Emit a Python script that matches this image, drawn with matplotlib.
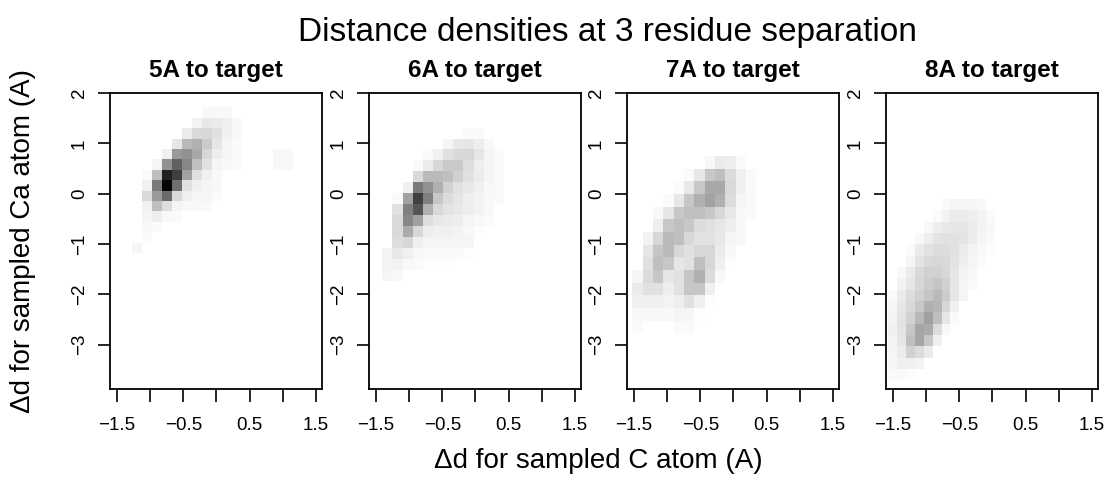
import numpy as np
import matplotlib
matplotlib.use("Agg")
import matplotlib.pyplot as plt
from matplotlib.colors import LinearSegmentedColormap

plt.rcParams['font.family'] = ['Liberation Sans', 'DejaVu Sans']

# ---- data -----------------------------------------------------------------
main_title = "Distance densities at 3 residue separation"
panel_titles = ["5A to target", "6A to target", "7A to target", "8A to target"]
x_label = "\u0394d for sampled C atom (A)"
y_label = "\u0394d for sampled Ca atom (A)"

x_ticks = [-1.5, -1.0, -0.5, 0.0, 0.5, 1.0, 1.5]
x_tick_labels = ["\u22121.5", "", "\u22120.5", "", "0.5", "", "1.5"]
y_ticks = [-3, -2, -1, 0, 1, 2]
y_tick_labels = ["\u22123", "\u22122", "\u22121", "0", "1", "2"]

# histogram bins of each panel: left edge / width in x, top edge / height in y
bin_x0 = [-1.27, -1.405, -1.526, -1.571]
bin_dx = [0.151, 0.153, 0.156, 0.134]
bin_y0 = [1.717, 1.313, 0.752, -0.106]
bin_dy = [0.207, 0.217, 0.252, 0.225]

# relative density (0 = none, 100 = maximum), rows from top to bottom
density_5A = [
    [0, 0, 0, 0, 0, 0, 0, 3, 3, 3, 0, 0, 0, 0, 0, 0],
    [0, 0, 0, 0, 0, 0, 5, 9, 8, 6, 3, 0, 0, 0, 0, 0],
    [0, 0, 0, 0, 0, 8, 15, 16, 12, 6, 3, 0, 0, 0, 0, 0],
    [0, 0, 0, 0, 10, 28, 31, 21, 10, 4, 2, 0, 0, 0, 0, 0],
    [0, 0, 0, 6, 40, 43, 34, 16, 7, 4, 2, 0, 0, 0, 3, 3],
    [0, 0, 4, 43, 62, 47, 25, 12, 4, 3, 2, 0, 0, 0, 3, 3],
    [0, 2, 25, 87, 75, 37, 12, 6, 3, 0, 0, 0, 0, 0, 0, 0],
    [0, 6, 52, 97, 56, 12, 6, 4, 3, 0, 0, 0, 0, 0, 0, 0],
    [0, 15, 40, 58, 15, 6, 4, 4, 2, 0, 0, 0, 0, 0, 0, 0],
    [0, 6, 25, 13, 4, 3, 3, 2, 0, 0, 0, 0, 0, 0, 0, 0],
    [0, 4, 7, 3, 2, 0, 0, 0, 0, 0, 0, 0, 0, 0, 0, 0],
    [0, 3, 2, 0, 0, 0, 0, 0, 0, 0, 0, 0, 0, 0, 0, 0],
    [0, 2, 0, 0, 0, 0, 0, 0, 0, 0, 0, 0, 0, 0, 0, 0],
    [4, 0, 0, 0, 0, 0, 0, 0, 0, 0, 0, 0, 0, 0, 0, 0],
]

density_6A = [
    [0, 0, 0, 0, 0, 0, 0, 0, 2, 2, 0, 0],
    [0, 0, 0, 0, 0, 0, 4, 9, 10, 7, 3, 0],
    [0, 0, 0, 0, 2, 6, 12, 15, 16, 10, 4, 2],
    [0, 0, 0, 2, 8, 16, 21, 21, 13, 7, 4, 2],
    [0, 0, 0, 15, 27, 27, 25, 18, 12, 8, 4, 2],
    [0, 0, 6, 52, 43, 31, 18, 12, 9, 6, 3, 2],
    [0, 2, 37, 75, 50, 22, 14, 10, 7, 5, 3, 2],
    [0, 12, 50, 67, 31, 15, 11, 9, 7, 5, 3, 0],
    [0, 15, 47, 37, 13, 9, 8, 7, 4, 3, 2, 0],
    [0, 15, 33, 16, 7, 6, 6, 5, 3, 1, 0, 0],
    [0, 13, 16, 6, 4, 4, 4, 4, 4, 0, 0, 0],
    [5, 9, 6, 3, 2, 2, 2, 2, 1, 0, 0, 0],
    [5, 5, 3, 2, 1, 1, 1, 0, 0, 0, 0, 0],
    [4, 3, 0, 0, 0, 0, 0, 0, 0, 0, 0, 0],
]

density_7A = [
    [0, 0, 0, 0, 0, 0, 0, 3, 8, 7, 2, 0],
    [0, 0, 0, 0, 0, 2, 9, 22, 25, 14, 6, 2],
    [0, 0, 0, 0, 2, 9, 22, 34, 34, 15, 6, 2],
    [0, 0, 0, 2, 9, 22, 31, 37, 31, 14, 4, 2],
    [0, 0, 3, 10, 22, 25, 25, 22, 16, 9, 3, 2],
    [0, 0, 7, 22, 25, 22, 14, 12, 10, 7, 3, 0],
    [0, 5, 16, 27, 25, 16, 12, 12, 9, 4, 3, 0],
    [0, 10, 23, 27, 16, 12, 16, 16, 8, 3, 0, 0],
    [0, 12, 25, 22, 10, 12, 25, 16, 6, 1, 0, 0],
    [4, 14, 22, 10, 12, 23, 31, 14, 3, 0, 0, 0],
    [8, 12, 12, 7, 12, 22, 22, 6, 0, 0, 0, 0],
    [6, 6, 6, 5, 7, 12, 6, 1, 0, 0, 0, 0],
    [3, 3, 3, 3, 4, 4, 1, 0, 0, 0, 0, 0],
    [2, 0, 0, 0, 2, 2, 0, 0, 0, 0, 0, 0],
]

density_8A = [
    [0, 0, 0, 0, 0, 0, 2, 4, 4, 4, 3, 0],
    [0, 0, 0, 0, 0, 2, 5, 8, 8, 7, 5, 2],
    [0, 0, 0, 0, 3, 7, 9, 10, 10, 8, 5, 3],
    [0, 0, 0, 3, 7, 11, 12, 12, 11, 8, 4, 2],
    [0, 0, 2, 8, 12, 14, 14, 12, 8, 5, 3, 1],
    [0, 0, 4, 11, 15, 16, 15, 11, 7, 4, 2, 0],
    [0, 3, 8, 15, 18, 18, 16, 10, 5, 3, 0, 0],
    [0, 5, 10, 16, 20, 23, 18, 10, 4, 2, 0, 0],
    [2, 8, 14, 18, 23, 27, 20, 10, 4, 0, 0, 0],
    [4, 10, 15, 22, 31, 29, 16, 6, 0, 0, 0, 0],
    [5, 11, 18, 28, 37, 25, 10, 2, 0, 0, 0, 0],
    [6, 11, 22, 35, 33, 14, 3, 0, 0, 0, 0, 0],
    [5, 10, 25, 35, 22, 6, 0, 0, 0, 0, 0, 0],
    [4, 8, 18, 14, 8, 0, 0, 0, 0, 0, 0, 0],
    [4, 6, 6, 5, 0, 0, 0, 0, 0, 0, 0, 0],
    [2, 2, 1, 0, 0, 0, 0, 0, 0, 0, 0, 0],
]

densities = [density_5A, density_6A, density_7A, density_8A]

# ---- figure ----------------------------------------------------------------
W, H = 1109, 484
fig = plt.figure(figsize=(W / 100, H / 100), dpi=100)
cmap = LinearSegmentedColormap.from_list("white_black", ["#ffffff", "#000000"])

panel_left = [110, 369, 627, 886]
panel_w, panel_top, panel_bottom = 212, 93, 389

for k in range(4):
    L = panel_left[k]
    ax = fig.add_axes([L / W, 1 - panel_bottom / H, panel_w / W,
                       (panel_bottom - panel_top) / H])
    z = np.ma.masked_equal(np.array(densities[k], dtype=float), 0)
    nrow, ncol = z.shape
    xe = bin_x0[k] + bin_dx[k] * np.arange(ncol + 1)
    ye = bin_y0[k] - bin_dy[k] * np.arange(nrow + 1)
    ax.pcolormesh(xe, ye, z, cmap=cmap, vmin=0, vmax=100,
                  shading="flat", antialiased=False, linewidth=0)
    ax.set_xlim(-1.605, 1.59)
    ax.set_ylim(-3.88, 2.0)
    ax.set_xticks(x_ticks)
    ax.set_xticklabels(x_tick_labels)
    ax.set_yticks(y_ticks)
    ax.set_yticklabels(y_tick_labels, rotation=90, va="center")
    ax.tick_params(axis="both", direction="out", length=9, width=1.2,
                   labelsize=13.5, color="black")
    ax.tick_params(axis="x", pad=11)
    ax.tick_params(axis="y", pad=7)
    for s in ax.spines.values():
        s.set_linewidth(1.3)
        s.set_color("black")
    fig.text((L + panel_w / 2) / W, 1 - 77 / H, panel_titles[k],
             ha="center", va="baseline", fontsize=17.5, fontweight="bold")

fig.text(607 / W, 1 - 41 / H, main_title, ha="center", va="baseline",
         fontsize=24)
fig.text(598 / W, 1 - 461 / H, x_label, ha="center", va="center",
         fontsize=20)
fig.text(23 / W, 1 - 241 / H, y_label, ha="center", va="center",
         rotation=90, fontsize=20)

fig.savefig("out.png", dpi=100)
